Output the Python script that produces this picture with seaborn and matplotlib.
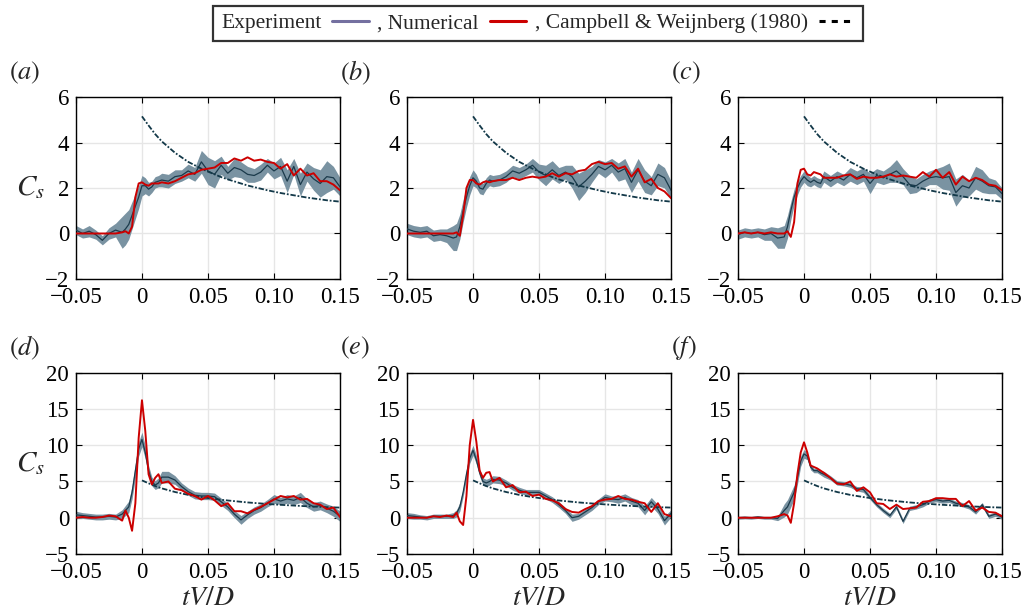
import numpy as np
import pandas as pd
import matplotlib
matplotlib.use("Agg")
import matplotlib.pyplot as plt
from matplotlib.lines import Line2D
import seaborn as sns

# ---------------- data ----------------
t = [-0.05, -0.045, -0.04, -0.035, -0.03, -0.025, -0.02, -0.015,
     -0.0125, -0.01, -0.0075, -0.005, -0.0025, 0.0, 0.0025, 0.005, 0.0075, 0.01, 0.0125,
     0.015, 0.02, 0.025, 0.03, 0.035, 0.04, 0.045, 0.05, 0.055, 0.06, 0.065, 0.07,
     0.075, 0.08, 0.085, 0.09, 0.095, 0.1, 0.105, 0.11, 0.115, 0.12, 0.125, 0.13,
     0.135, 0.14, 0.145, 0.15]

t_cw = [0.0, 0.005, 0.01, 0.015, 0.02, 0.025, 0.03, 0.035, 0.04, 0.045, 0.05, 0.055,
        0.06, 0.065, 0.07, 0.075, 0.08, 0.085, 0.09, 0.095, 0.1, 0.105, 0.11, 0.115,
        0.12, 0.125, 0.13, 0.135, 0.14, 0.145, 0.15]
cs_cw = [5.15, 4.75, 4.37, 4.05, 3.8, 3.55, 3.35, 3.15, 3.0, 2.85, 2.72, 2.6,
         2.48, 2.38, 2.29, 2.2, 2.11, 2.04, 1.97, 1.9, 1.84, 1.78, 1.73, 1.68,
         1.63, 1.58, 1.54, 1.5, 1.46, 1.43, 1.4]

exp_a = [0.15, 0.0, 0.1, -0.05, -0.3, 0.0, 0.15, 0.05, 0.2, 0.4, 0.8, 1.2, 1.6, 2.1, 2.1,
         1.95, 2.05, 2.25, 2.3, 2.35, 2.3, 2.5, 2.55, 2.75, 2.6, 3.15, 2.75, 2.6, 3.0,
         2.65, 2.9, 2.8, 2.6, 2.55, 2.7, 3.0, 2.75, 2.95, 2.3, 2.95, 2.15, 2.7, 2.4,
         2.2, 2.5, 2.45, 2.05]
err_a = [0.2, 0.2, 0.25, 0.2, 0.2, 0.25, 0.3, 0.7, 0.7, 0.65, 0.6, 0.55, 0.5, 0.45, 0.35,
         0.3, 0.25, 0.25, 0.25, 0.3, 0.3, 0.3, 0.25, 0.3, 0.3, 0.5, 0.6, 0.6, 0.4,
         0.3, 0.4, 0.35, 0.35, 0.3, 0.35, 0.3, 0.35, 0.4, 0.5, 0.35, 0.5, 0.4, 0.5,
         0.6, 0.7, 0.5, 0.4]
num_a = [0.0, 0.0, 0.0, 0.0, 0.0, 0.0, 0.0, 0.05, 0.1, 0.0, 0.3, 1.6, 2.2, 2.25, 2.15,
         2.1, 2.2, 2.2, 2.2, 2.25, 2.2, 2.3, 2.45, 2.6, 2.65, 2.8, 2.85, 2.9, 3.1,
         3.1, 3.3, 3.2, 3.35, 3.2, 3.25, 3.15, 3.1, 2.85, 3.05, 2.55, 2.85, 2.55, 2.65,
         2.3, 2.3, 2.15, 1.9]

exp_b = [0.2, 0.1, 0.05, 0.1, -0.1, -0.05, -0.1, -0.2, -0.15, 0.3, 1.0, 1.6, 2.1, 2.45, 2.3,
         2.0, 1.95, 2.2, 2.35, 2.3, 2.35, 2.5, 2.75, 2.65, 2.8, 3.0, 2.7, 2.55, 2.8,
         2.55, 2.7, 2.5, 2.05, 2.3, 2.6, 2.95, 2.8, 3.0, 2.7, 2.85, 2.25, 2.8, 2.3,
         2.1, 2.6, 2.45, 1.9]
err_b = [0.25, 0.25, 0.25, 0.25, 0.25, 0.25, 0.3, 0.55, 0.6, 0.55, 0.5, 0.45, 0.4, 0.35, 0.3,
         0.25, 0.25, 0.25, 0.25, 0.25, 0.25, 0.25, 0.25, 0.25, 0.25, 0.3, 0.35, 0.45, 0.4,
         0.35, 0.3, 0.5, 0.6, 0.5, 0.35, 0.3, 0.35, 0.3, 0.4, 0.45, 0.45, 0.5, 0.5,
         0.4, 0.5, 0.45, 0.4]
num_b = [0.0, 0.0, 0.0, 0.0, 0.0, 0.0, 0.0, 0.0, 0.05, -0.1, 0.8, 2.0, 2.35, 2.35, 2.2,
         2.15, 2.25, 2.3, 2.25, 2.3, 2.35, 2.35, 2.45, 2.35, 2.45, 2.5, 2.45, 2.5, 2.65,
         2.5, 2.65, 2.6, 2.75, 2.8, 3.05, 3.15, 3.05, 3.1, 2.85, 2.95, 2.5, 2.85, 2.25,
         2.4, 2.0, 1.85, 1.55]

exp_c = [-0.05, 0.05, 0.0, 0.05, -0.05, 0.0, -0.2, -0.15, 0.3, 1.0, 1.6, 2.0, 2.3, 2.5, 2.35,
         2.25, 2.35, 2.25, 2.2, 2.5, 2.3, 2.5, 2.35, 2.6, 2.45, 2.6, 2.2, 2.55, 2.45,
         2.6, 2.75, 2.5, 2.15, 2.1, 2.3, 2.45, 2.5, 2.45, 2.5, 1.8, 2.1, 2.0, 2.45,
         2.3, 2.1, 2.05, 1.75]
err_c = [0.2, 0.2, 0.2, 0.2, 0.25, 0.3, 0.45, 0.5, 0.5, 0.4, 0.35, 0.3, 0.25, 0.25, 0.25,
         0.2, 0.2, 0.2, 0.2, 0.25, 0.25, 0.25, 0.25, 0.3, 0.3, 0.3, 0.45, 0.3, 0.3,
         0.35, 0.5, 0.35, 0.4, 0.3, 0.3, 0.3, 0.35, 0.5, 0.6, 0.6, 0.5, 0.35, 0.5,
         0.5, 0.35, 0.3, 0.25]
num_c = [0.0, 0.05, 0.0, 0.05, 0.0, 0.05, 0.0, 0.0, 0.1, -0.15, 0.5, 2.2, 2.8, 2.85, 2.6,
         2.55, 2.7, 2.65, 2.6, 2.45, 2.45, 2.45, 2.55, 2.6, 2.4, 2.5, 2.45, 2.45, 2.5,
         2.6, 2.5, 2.55, 2.5, 2.45, 2.7, 2.5, 2.8, 2.45, 2.7, 2.15, 2.5, 2.3, 2.45,
         2.35, 2.15, 2.1, 1.9]

exp_d = [0.4, 0.3, 0.2, 0.1, 0.1, 0.2, 0.1, 0.5, 1.0, 1.5, 3.5, 6.5, 9.5, 10.8, 9.0,
         6.5, 5.0, 4.5, 4.8, 5.6, 5.6, 5.2, 4.3, 3.6, 3.1, 3.0, 3.0, 2.9, 2.2,
         1.5, 0.5, -0.3, 0.4, 1.0, 1.4, 2.0, 2.6, 2.3, 2.6, 2.4, 2.8, 2.0, 1.5,
         1.7, 1.3, 0.9, 0.2]
err_d = [0.5, 0.4, 0.4, 0.4, 0.4, 0.4, 0.4, 0.6, 0.7, 0.8, 0.9, 1.0, 1.0, 1.0, 0.9,
         0.7, 0.6, 0.6, 0.7, 0.8, 0.8, 0.6, 0.5, 0.5, 0.5, 0.5, 0.5, 0.5, 0.5,
         0.5, 0.5, 0.6, 0.5, 0.5, 0.5, 0.5, 0.6, 0.5, 0.6, 0.6, 0.7, 0.6, 0.6,
         0.6, 0.6, 0.7, 0.7]
num_d = [0.0, 0.1, 0.0, 0.0, 0.1, 0.3, 0.2, -0.4, 1.0, 0.0, -1.8, 2.0, 11.0, 16.2, 12.0,
         6.0, 4.6, 5.5, 6.0, 4.8, 5.0, 4.0, 3.8, 3.3, 3.0, 2.5, 3.0, 2.4, 1.6,
         2.0, 0.9, 0.9, 0.6, 1.1, 1.5, 2.0, 2.5, 3.0, 2.8, 3.0, 2.5, 2.6, 2.0,
         1.8, 1.2, 1.4, 0.1]

exp_e = [0.3, 0.2, 0.1, 0.0, 0.2, 0.2, 0.2, 0.3, 0.6, 1.5, 3.5, 6.0, 8.2, 9.3, 8.0,
         6.2, 5.0, 4.8, 5.0, 5.3, 5.2, 4.8, 4.2, 3.8, 3.5, 3.5, 3.5, 3.0, 2.5,
         1.8, 1.0, 0.0, 0.2, 0.8, 1.4, 2.2, 2.8, 2.6, 2.5, 2.8, 2.3, 2.0, 1.0,
         2.2, 1.2, -0.4, 0.6]
err_e = [0.4, 0.4, 0.3, 0.3, 0.3, 0.3, 0.3, 0.4, 0.5, 0.6, 0.6, 0.7, 0.7, 0.7, 0.6,
         0.5, 0.5, 0.5, 0.5, 0.5, 0.5, 0.4, 0.4, 0.4, 0.4, 0.4, 0.4, 0.4, 0.4,
         0.4, 0.4, 0.5, 0.4, 0.4, 0.4, 0.4, 0.5, 0.4, 0.5, 0.5, 0.5, 0.5, 0.6,
         0.6, 0.6, 0.6, 0.5]
num_e = [0.0, 0.0, 0.0, 0.0, 0.2, 0.1, 0.3, 0.1, 0.7, -0.5, -1.0, 3.0, 10.0, 13.5, 10.5,
         6.5, 5.5, 6.2, 6.3, 5.0, 5.5, 4.2, 4.5, 3.5, 3.6, 3.0, 3.2, 2.6, 2.4,
         2.0, 1.2, 0.8, 0.7, 1.2, 1.6, 2.3, 2.5, 2.6, 3.0, 2.6, 2.5, 2.2, 2.0,
         0.8, 2.0, 0.5, 0.2]

exp_f = [0.0, 0.05, 0.0, 0.1, 0.0, 0.0, -0.1, 1.0, 1.5, 2.5, 3.5, 5.5, 7.8, 8.8, 8.5,
         7.0, 6.5, 6.5, 6.2, 6.0, 5.5, 4.8, 4.7, 4.5, 4.0, 3.9, 2.8, 1.8, 1.0,
         0.3, 1.5, -0.5, 1.3, 1.5, 1.8, 2.3, 2.5, 2.3, 2.4, 2.0, 1.8, 1.5, 0.8,
         1.8, 0.2, 0.5, 0.1]
err_f = [0.2, 0.2, 0.2, 0.2, 0.2, 0.2, 0.3, 0.9, 1.0, 1.0, 1.0, 0.9, 0.7, 0.6, 0.5,
         0.4, 0.3, 0.3, 0.3, 0.4, 0.3, 0.3, 0.3, 0.3, 0.3, 0.4, 0.3, 0.3, 0.3,
         0.3, 0.3, 0.3, 0.3, 0.3, 0.3, 0.3, 0.3, 0.3, 0.3, 0.3, 0.3, 0.3, 0.3,
         0.3, 0.3, 0.3, 0.3]
num_f = [0.0, 0.0, 0.0, 0.0, 0.0, 0.0, 0.2, 0.5, 0.3, -0.7, 2.0, 6.0, 9.0, 10.4, 9.0,
         7.2, 7.0, 6.8, 6.5, 6.2, 5.5, 4.7, 4.6, 5.0, 3.7, 4.2, 3.5, 2.0, 1.9,
         1.2, 1.8, 1.2, 1.3, 1.4, 2.2, 2.3, 2.7, 2.7, 2.6, 2.6, 1.6, 2.3, 1.0,
         1.4, 0.8, 0.7, 0.2]

panel_labels = ["a", "b", "c", "d", "e", "f"]
exp_series = [exp_a, exp_b, exp_c, exp_d, exp_e, exp_f]
err_series = [err_a, err_b, err_c, err_d, err_e, err_f]
num_series = [num_a, num_b, num_c, num_d, num_e, num_f]
x_ticks = [-0.05, 0, 0.05, 0.10, 0.15]
x_ticklabels = ["\u22120.05", "0", "0.05", "0.10", "0.15"]
y_ticks_top = [-2, 0, 2, 4, 6]
y_ticks_bot = [-5, 0, 5, 10, 15, 20]

# ---------------- style ----------------
sns.set_theme(style="whitegrid")
plt.rcParams["font.family"] = ["Liberation Serif", "DejaVu Serif"]
plt.rcParams["mathtext.fontset"] = "stix"
plt.rcParams["axes.unicode_minus"] = True

BAND = "#7a93a2"
MEAN = "#1b3a4b"
RED = "#cc0000"
CW = "#123848"

fig = plt.figure(figsize=(10.25, 6.11), dpi=100)
lefts = [0.0741, 0.3971, 0.7200]
width = 0.2576
rows = [(0.5434, 0.2978), (0.0933, 0.2967)]

for i in range(6):
    r, c = divmod(i, 3)
    bottom, height = rows[r]
    ax = fig.add_axes([lefts[c], bottom, width, height])
    lo = [m - e for m, e in zip(exp_series[i], err_series[i])]
    hi = [m + e for m, e in zip(exp_series[i], err_series[i])]
    ax.fill_between(t, lo, hi, color=BAND, lw=0, zorder=2)
    sns.lineplot(x=t, y=exp_series[i], ax=ax, color=MEAN, lw=0.9, zorder=3)
    sns.lineplot(x=t_cw, y=cs_cw, ax=ax, color=CW, lw=1.3, zorder=4,
                 linestyle=(0, (3, 1, 1, 1)))
    sns.lineplot(x=t, y=num_series[i], ax=ax, color=RED, lw=1.4, zorder=5)

    ax.set_xlim(-0.05, 0.15)
    ax.set_xticks(x_ticks)
    ax.set_xticklabels(x_ticklabels)
    if r == 0:
        ax.set_ylim(-2, 6)
        ax.set_yticks(y_ticks_top)
        ax.set_yticklabels(["\u22122", "0", "2", "4", "6"])
    else:
        ax.set_ylim(-5, 20)
        ax.set_yticks(y_ticks_bot)
        ax.set_yticklabels(["\u22125", "0", "5", "10", "15", "20"])
        ax.set_xlabel(r"$tV/D$", fontsize=20, labelpad=2)
    if c == 0:
        ax.set_ylabel(r"$C_s$", fontsize=21, rotation=0, labelpad=10, va="center")
    ax.set_facecolor("white")
    ax.grid(True, color="#e6e6e6", lw=1.0)
    for s in ax.spines.values():
        s.set_color("black")
        s.set_linewidth(1.0)
    ax.tick_params(direction="in", length=4, width=0.8, top=True, right=True,
                   bottom=True, left=True, labelsize=16.5, colors="black")
    ax.tick_params(axis="x", pad=6)
    ax.tick_params(axis="y", pad=5)
    ax.text(-0.255, 1.135, r"$(%s)$" % panel_labels[i], transform=ax.transAxes,
            fontsize=19, ha="left", va="center")

handles = [Line2D([], [], color="#7470a0", lw=2.2),
           Line2D([], [], color=RED, lw=2.2),
           Line2D([], [], color="black", lw=2.2, linestyle=(0, (2.0, 2.0)))]
labels = ["Experiment", ", Numerical", ", Campbell & Weijnberg (1980)"]
leg = fig.legend(handles, labels, loc="center", bbox_to_anchor=(0.525, 0.962), ncol=3,
                 markerfirst=False, frameon=True, fancybox=False, fontsize=15.5,
                 handlelength=1.7, handletextpad=0.5, columnspacing=0.4,
                 borderpad=0.35, edgecolor="black")
leg.get_frame().set_linewidth(1.6)

fig.savefig("out.png", dpi=100, facecolor="white")
